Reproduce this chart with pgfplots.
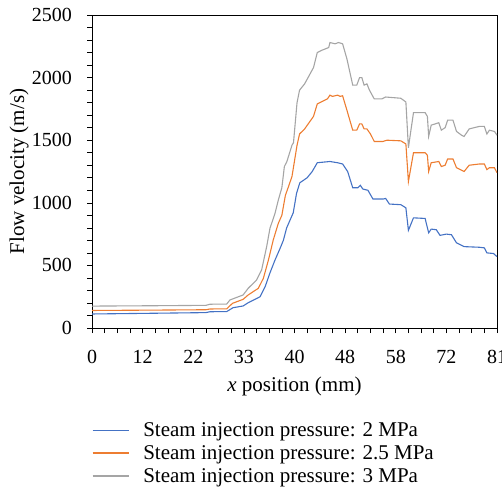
\documentclass[border=0pt]{standalone}
\usepackage{fontspec}
\setmainfont{Liberation Serif}
\usepackage{pgfplots}
\pgfplotsset{compat=1.18}
\definecolor{cblue}{HTML}{4472C4}
\definecolor{corange}{HTML}{ED7D31}
\definecolor{cgray}{HTML}{A5A5A5}
\begin{document}
\begin{tikzpicture}
\path[use as bounding box] (0,0) rectangle (502pt,491pt);
\begin{axis}[
  at={(92pt,163pt)}, anchor=south west,
  scale only axis, width=405pt, height=313pt,
  xmin=0, xmax=160, ymin=0, ymax=2500,
  xtick={0,20,...,160},
  xticklabels={0,12,22,33,40,48,58,72,81},
  minor xtick={5,10,...,155},
  ytick={0,500,...,2500},
  minor ytick={100,200,...,2400},
  tick pos=left,
  tick align=outside,
  major tick length=5pt, minor tick length=5pt,
  every tick/.style={black, line width=0.6pt},
  every minor tick/.style={black, line width=0.6pt},
  axis line style={black, line width=0.8pt},
  /pgf/number format/assume math mode=true,
  /pgf/number format/1000 sep={},
  tick label style={font=\fontsize{20}{24}\selectfont},
  xticklabel style={inner sep=0pt, anchor=north, yshift=-17pt},
  yticklabel style={inner sep=0pt, anchor=east, xshift=-15pt},
  xlabel={\textit{x} position (mm)},
  ylabel={Flow velocity (m/s)},
  label style={font=\fontsize{21}{25}\selectfont},
  xlabel style={at={(axis description cs:0.5,-0.2013)}, anchor=base, inner sep=0pt},
  ylabel style={at={(axis description cs:-0.1679,0.5)}, anchor=base, inner sep=0pt},
  legend cell align=left,
  legend image code/.code={\draw[#1, line width=1.3pt] (0pt,0pt) -- (36pt,0pt);},
  legend style={at={(axis description cs:0,-0.302)}, anchor=north west,
    draw=none, fill=none, inner sep=0pt, outer sep=0pt,
    font=\fontsize{21}{25}\selectfont,
    nodes={inner sep=0pt},
    row sep=7.5pt,
    /tikz/every odd column/.append style={column sep=14pt}},
]
\addplot[cblue, line width=1.1pt] coordinates {
(0,112) (25,118) (45,123) (46.6,130) (53.2,131) (55.7,162) (59.7,176) (61.7,202)
(64,225) (66.4,250) (68.4,330) (70.3,440) (72.3,543) (74.3,636) (75.6,700)
(76.9,800) (78.2,860) (79.5,920) (80.8,1075) (82.1,1160) (85,1200) (87,1250)
(89,1320) (94,1330) (97,1320) (99,1310) (101,1250) (103,1120) (105,1120)
(106,1140) (107,1110) (109,1100) (111,1030) (115,1030) (116,1035) (117.5,990)
(122,985) (124,960) (125,780) (127,880) (131.6,875) (133,760) (134,790)
(136,785) (137.5,740) (140,750) (142,745) (144,680) (146,660) (147,650)
(153,645) (155,640) (156,600) (158.6,595) (160,570)
};
\addlegendentry{Steam injection pressure: 2 MPa}
\addplot[corange, line width=1.1pt] coordinates {
(0,140) (25,143) (45,146) (46.6,152) (53.2,153) (55.5,197) (59.7,229) (61.7,264)
(65.7,317) (67.7,397) (69.7,543) (71.6,703) (73.6,836) (75,900) (76.4,1060)
(77.6,1128) (79,1210) (81,1460) (82,1550) (84,1590) (87.5,1690) (89,1790)
(91,1810) (93,1830) (94,1860) (95,1850) (97,1860) (98,1850) (99,1855)
(100.7,1740) (103,1580) (104.6,1580) (105.7,1630) (106.6,1630) (107.5,1590)
(108.6,1590) (110,1550) (111.5,1490) (115,1490) (116.5,1500) (122,1495)
(124,1470) (125,1170) (127,1400) (131.6,1400) (132.5,1380) (133,1250)
(134,1320) (137,1330) (138,1290) (139.5,1300) (140.5,1350) (142.6,1350)
(144,1280) (146,1260) (147,1250) (149,1300) (153,1310) (155,1310) (156,1265)
(157,1280) (159,1280) (160,1240)
};
\addlegendentry{Steam injection pressure: 2.5 MPa}
\addplot[cgray, line width=1.1pt] coordinates {
(0,175) (25,178) (45,181) (46.6,190) (53.2,191) (54.5,224) (59.7,264) (61.7,317)
(65,383) (67,463) (69,650) (70.3,796) (72.3,916) (73.6,1022) (75,1120)
(76,1290) (77,1330) (79,1460) (79.6,1480) (81,1800) (82,1900) (84,1950)
(87.5,2080) (89,2200) (91,2220) (93.5,2240) (94,2280) (96,2270) (97.4,2280)
(99,2270) (100.7,2150) (103,1940) (104.6,1940) (105.7,2000) (106.6,2000)
(107.5,1940) (108.6,1950) (109.6,1900) (111.5,1830) (114.5,1830) (116,1845)
(122,1835) (124,1805) (125,1440) (127,1720) (131.6,1720) (132.5,1690)
(133,1530) (134,1620) (137,1640) (138,1580) (139.5,1600) (140.5,1660)
(142.6,1660) (144,1570) (146,1540) (147,1530) (149,1590) (153,1610)
(155,1610) (156,1550) (157,1580) (159,1570) (160,1540)
};
\addlegendentry{Steam injection pressure: 3 MPa}
\end{axis}
\end{tikzpicture}
\end{document}
